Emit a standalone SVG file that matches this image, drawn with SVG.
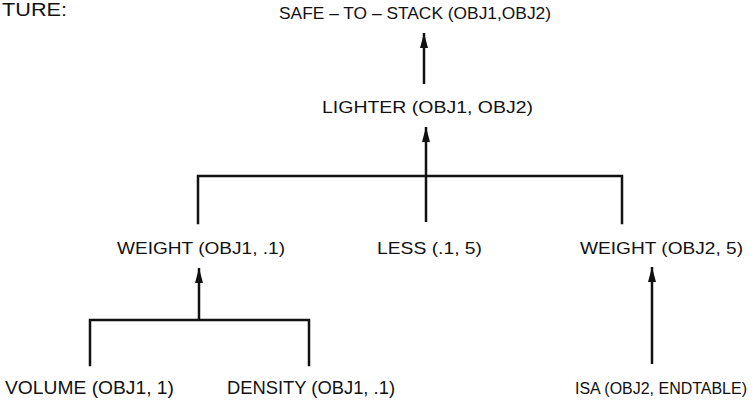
<svg xmlns="http://www.w3.org/2000/svg" width="756" height="404" viewBox="0 0 756 404">
  <style>
    text { font-family: "Liberation Sans", Arial, Helvetica, sans-serif; fill: #111; }
    .t16 { font-size: 16.5px; }
    .t19 { font-size: 19px; }
    .wire { stroke: #111; stroke-width: 2.5; fill: none; stroke-linecap: square; }
    .arrow { stroke: #111; stroke-width: 2.5; fill: none; marker-end: url(#head); }
  </style>
  <defs>
    <marker id="head" markerUnits="userSpaceOnUse" markerWidth="16" markerHeight="10" refX="15" refY="4.5" orient="auto">
      <path d="M0,0.5 L15,4.5 L0,8.5 Z" fill="#111"/>
    </marker>
  </defs>
  <rect width="756" height="404" fill="#fff"/>

  <text x="2" y="16" font-size="18" textLength="65" lengthAdjust="spacingAndGlyphs">TURE:</text>

  <!-- connectors -->
  <g id="connectors">
    <path class="arrow" d="M424,84 V33"/>
    <path class="arrow" d="M426,222 V127"/>
    <path class="wire" d="M198,223 V176 H622 V223"/>
    <path class="arrow" d="M199,320 V268"/>
    <path class="wire" d="M90,365 V320 H309 V365"/>
    <path class="arrow" d="M652,364 V267"/>
  </g>

  <!-- nodes -->
  <g id="safe-to-stack">
    <text class="t16" x="279" y="19" textLength="272" lengthAdjust="spacingAndGlyphs">SAFE – TO – STACK (OBJ1,OBJ2)</text>
  </g>
  <g id="lighter">
    <text class="t16" x="322" y="113" textLength="211" lengthAdjust="spacingAndGlyphs">LIGHTER (OBJ1, OBJ2)</text>
  </g>
  <g id="weight-obj1">
    <text class="t16" x="117" y="254" textLength="168" lengthAdjust="spacingAndGlyphs">WEIGHT (OBJ1, .1)</text>
  </g>
  <g id="less">
    <text class="t16" x="377" y="254" textLength="105" lengthAdjust="spacingAndGlyphs">LESS (.1, 5)</text>
  </g>
  <g id="weight-obj2">
    <text class="t16" x="580" y="254" textLength="163" lengthAdjust="spacingAndGlyphs">WEIGHT (OBJ2, 5)</text>
  </g>
  <g id="volume">
    <text class="t19" x="5" y="394" textLength="169" lengthAdjust="spacingAndGlyphs">VOLUME (OBJ1, 1)</text>
  </g>
  <g id="density">
    <text class="t19" x="227" y="394" textLength="168" lengthAdjust="spacingAndGlyphs">DENSITY (OBJ1, .1)</text>
  </g>
  <g id="isa">
    <text x="575" y="394" font-size="16" textLength="172" lengthAdjust="spacingAndGlyphs">ISA (OBJ2, ENDTABLE)</text>
  </g>
</svg>
